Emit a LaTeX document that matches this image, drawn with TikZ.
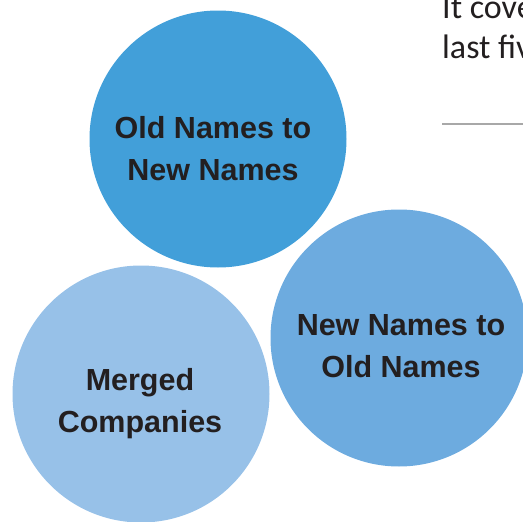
\documentclass[tikz,border=0pt]{standalone}
\usepackage{fontspec}
\setmainfont{Liberation Sans}
\newfontfamily\bodyfont{Carlito}
\definecolor{cA}{HTML}{429FD9}
\definecolor{cB}{HTML}{6DABDF}
\definecolor{cC}{HTML}{97C1E8}
\definecolor{txt}{HTML}{231F20}
\definecolor{rule}{HTML}{A8A8A8}
\begin{document}
\begin{tikzpicture}[x=1pt,y=-1pt,
  bubble/.style={circle,minimum size=257pt,inner sep=0pt},
  lbl/.style={font=\fontsize{30.5}{42}\selectfont\bfseries,text=txt,align=center},
  body/.style={font=\bodyfont\fontsize{34}{40}\selectfont,text=txt,anchor=base west,inner sep=0pt}]
\useasboundingbox (0,0) rectangle (523,522);
\clip (0,0) rectangle (523,522);
\node[bubble,fill=cC] (mc) at (141,394) {};
\node[bubble,fill=cA] (on) at (218,139) {};
\node[bubble,fill=cB] (no) at (399,338) {};
\node[lbl] (t1) at (213,149) {Old Names to\\New Names};
\node[lbl] (t2) at (401,346) {New Names to\\Old Names};
\node[lbl] (t3) at (140,404) {Merged\\Companies};
\node[body] (b1) at (442,18) {It cove};
\node[body] (b2) at (442,58) {last fiv};
\coordinate (r1) at (442,124);
\coordinate (r2) at (523,124);
\draw[rule,line width=1.5pt] (r1) -- (r2);
\end{tikzpicture}
\end{document}
